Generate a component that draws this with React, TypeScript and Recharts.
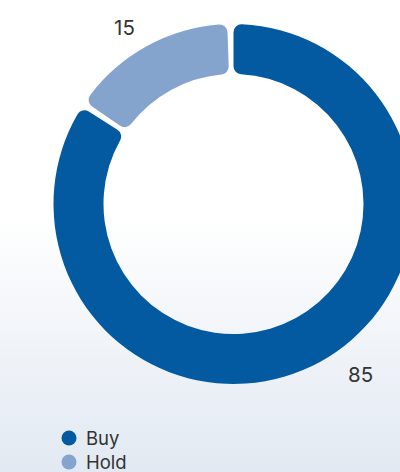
import React from "react";
import { PieChart, Pie, Cell, Legend } from "recharts";

const categories = ["Buy", "Hold"];
const values = [85, 15];
const colors = ["#035aa0", "#84a3cd"];

const data = categories.map((name, i) => ({ name, value: values[i] }));

const RAD = Math.PI / 180;

const renderLabel = (props: any) => {
  const { cx, cy, midAngle, outerRadius, value } = props;
  const angle = midAngle + 5.5;
  const r = outerRadius + 30;
  const x = cx + r * Math.cos(angle * RAD) + 9;
  const y = cy - r * Math.sin(angle * RAD) - 3;
  return (
    <text
      x={x}
      y={y}
      textAnchor="middle"
      dominantBaseline="central"
      fill="#333333"
      fontSize={20.5}
      fontFamily="Inter, 'Noto Sans', sans-serif"
    >
      {value}
    </text>
  );
};

const LegendContent = () => (
  <div style={{ fontFamily: "Inter, 'Noto Sans', sans-serif", fontSize: 18.5, color: "#333" }}>
    {data.map((d, i) => (
      <div key={d.name} style={{ display: "flex", alignItems: "center", height: 24 }}>
        <svg width={16} height={16} style={{ marginRight: 9 }}>
          <circle cx={8} cy={8} r={7.5} fill={colors[i]} />
        </svg>
        <span>{d.name}</span>
      </div>
    ))}
  </div>
);

export default function App() {
  return (
    <div
      style={{
        position: "fixed",
        left: 0,
        top: 0,
        width: 400,
        height: 472,
        overflow: "hidden",
        background: "linear-gradient(to bottom, #ffffff 0%, #ffffff 45%, #e2e9f2 100%)",
      }}
    >
      <PieChart width={400} height={472} margin={{ top: 0, right: 0, bottom: 0, left: 0 }}>
        <Pie
          data={data}
          dataKey="value"
          nameKey="name"
          cx={233.5}
          cy={204}
          innerRadius={130}
          outerRadius={180}
          startAngle={90}
          endAngle={-270}
          paddingAngle={2}
          cornerRadius={8}
          stroke="none"
          label={renderLabel}
          labelLine={false}
          isAnimationActive={false}
        >
          {data.map((d, i) => (
            <Cell key={d.name} fill={colors[i]} />
          ))}
        </Pie>
        <Legend
          content={<LegendContent />}
          layout="vertical"
          wrapperStyle={{ position: "absolute", left: 61, top: 426, width: 150 }}
        />
      </PieChart>
    </div>
  );
}
